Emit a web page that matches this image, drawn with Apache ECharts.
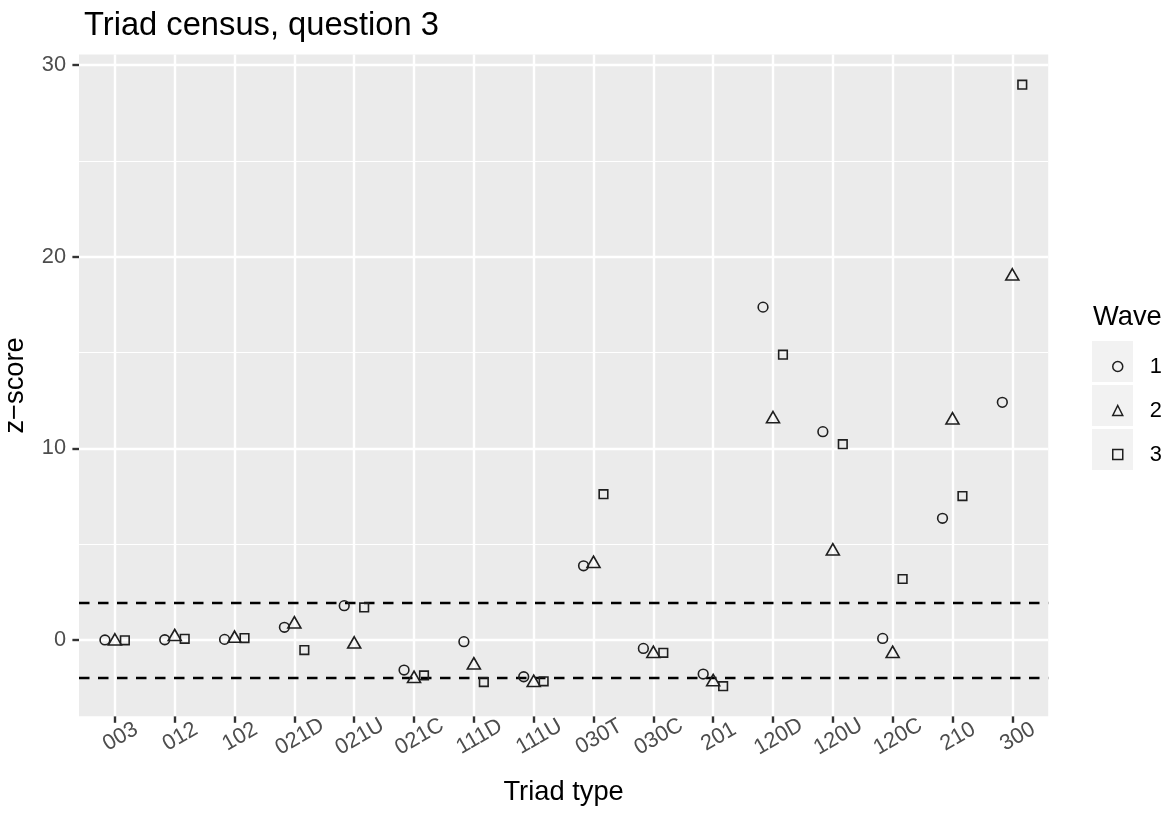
<!DOCTYPE html>
<html>
<head>
<meta charset="utf-8">
<script src="https://cdn.jsdelivr.net/npm/echarts@6/dist/echarts.min.js"></script>
<style>
html,body{margin:0;padding:0;background:#fff;}
#chart{width:1168px;height:814px;}
</style>
</head>
<body>
<div id="chart"></div>
<script>
// ---- data ----
const categories = ['003','012','102','021D','021U','021C','111D','111U','030T','030C','201','120D','120U','120C','210','300'];
const waves = ['1','2','3'];
const wave1 = [0.00, 0.01, 0.03, 0.66, 1.79, -1.57, -0.09, -1.92, 3.87, -0.44, -1.78, 17.37, 10.87, 0.08, 6.35, 12.40];
const wave2 = [0.03, 0.26, 0.17, 0.92, -0.13, -1.92, -1.22, -2.13, 4.08, -0.62, -2.09, 11.63, 4.73, -0.62, 11.57, 19.08];
const wave3 = [-0.02, 0.06, 0.10, -0.53, 1.70, -1.85, -2.20, -2.16, 7.61, -0.67, -2.41, 14.89, 10.22, 3.18, 7.51, 28.98];
const thresholds = [-1.96, 1.96];
const yTicks = [0, 10, 20, 30];
const yMinor = [5, 15, 25];

// ---- layout / style ----
const waveValues = [wave1, wave2, wave3];
const shapes = ['circle', 'triangle', 'rect'];
const sizes = [9.7, [13, 11.3], 8.6];
const dodge = [-1/6, 0, 1/6];
const strokeCol = '#1f1f1f';
const FONT = 'Liberation Sans, Arial, sans-serif';

const allY = wave1.concat(wave2, wave3, thresholds);
const yLo = Math.min.apply(null, allY), yHi = Math.max.apply(null, allY);
const ypad = (yHi - yLo) * 0.05;
const yMin = yLo - ypad, yMax = yHi + ypad;
const catIdx = categories.map((c, i) => i);

const pointSeries = waves.map((w, k) => ({
  name: w,
  type: 'scatter',
  z: 5,
  symbol: shapes[k],
  symbolSize: sizes[k],
  itemStyle: { color: 'rgba(0,0,0,0)', borderColor: strokeCol, borderWidth: 1.6, opacity: 1 },
  emphasis: { disabled: true },
  data: waveValues[k].map((v, i) => [i + dodge[k], v])
}));

const gridLines = [];
yMinor.forEach(v => gridLines.push({ yAxis: v, lineStyle: { color: '#fff', width: 1.2, type: 'solid' } }));
yTicks.forEach(v => gridLines.push({ yAxis: v, lineStyle: { color: '#fff', width: 2.4, type: 'solid' } }));
catIdx.forEach(v => gridLines.push({ xAxis: v, lineStyle: { color: '#fff', width: 2.4, type: 'solid' } }));

const option = {
  animation: false,
  backgroundColor: '#ffffff',
  textStyle: { fontFamily: FONT },
  title: [
    { text: 'Triad census, question 3', left: 79, top: 4,
      textStyle: { fontSize: 32.7, fontWeight: 'normal', color: '#000', fontFamily: FONT } },
    { text: 'Wave', left: 1088, top: 298.5,
      textStyle: { fontSize: 27.3, fontWeight: 'normal', color: '#000', fontFamily: FONT } }
  ],
  graphic: [0, 1, 2].map(i => ({
    type: 'rect', left: 1092, top: 341 + i * 44, z: -1,
    shape: { width: 41, height: 41 }, style: { fill: '#F2F2F2' }, silent: true
  })),
  legend: {
    orient: 'vertical', left: 1107, top: 350.5,
    itemWidth: 10, itemHeight: 10, itemGap: 22,
    selectedMode: false,
    textStyle: { fontSize: 21.8, color: '#000', lineHeight: 22, padding: [0, 0, 0, 22], fontFamily: FONT },
    data: waves.map((w, k) => ({
      name: w, icon: shapes[k],
      itemStyle: { color: 'rgba(0,0,0,0)', borderColor: strokeCol, borderWidth: 1.5 }
    }))
  },
  grid: {
    left: 79, right: 119.8, top: 54.6, bottom: 97.8,
    containLabel: false, outerBoundsMode: 'none',
    show: true, backgroundColor: '#EBEBEB', borderWidth: 0
  },
  xAxis: {
    type: 'value', min: -0.6, max: categories.length - 0.4,
    name: 'Triad type', nameLocation: 'middle', nameGap: 63,
    nameTextStyle: { fontSize: 27.3, color: '#000', fontFamily: FONT },
    axisLine: { show: false, onZero: false },
    splitLine: { show: false },
    axisTick: { show: true, inside: false, length: 6.6, customValues: catIdx, lineStyle: { color: '#333333', width: 2.4, opacity: 1 } },
    axisLabel: {
      customValues: catIdx, rotate: 30, align: 'center', verticalAlign: 'top', margin: 11,
      fontSize: 21.8, color: '#4D4D4D', fontFamily: FONT,
      formatter: v => categories[Math.round(v)]
    }
  },
  yAxis: {
    type: 'value', min: yMin, max: yMax,
    name: 'z\u2212score', nameLocation: 'middle', nameGap: 50,
    nameTextStyle: { fontSize: 27.3, color: '#000', fontFamily: FONT },
    axisLine: { show: false, onZero: false },
    splitLine: { show: false },
    axisTick: { show: true, inside: false, length: 6.6, customValues: yTicks, lineStyle: { color: '#333333', width: 2.4, opacity: 1 } },
    axisLabel: { customValues: yTicks, margin: 13, fontSize: 21.8, color: '#4D4D4D', fontFamily: FONT }
  },
  series: [
    { name: 'gridlines', type: 'scatter', data: [], z: 1, silent: true,
      markLine: { silent: true, symbol: ['none', 'none'], label: { show: false }, animation: false, data: gridLines } },
    { name: 'thresholds', type: 'scatter', data: [], z: 2, silent: true,
      markLine: { silent: true, symbol: ['none', 'none'], label: { show: false }, animation: false,
        data: thresholds.map(v => ({ yAxis: v, lineStyle: { color: '#000', width: 2.4, type: [10.5, 8.5] } })) } }
  ].concat(pointSeries)
};

const chart = echarts.init(document.getElementById('chart'), null, { renderer: 'canvas' });
chart.setOption(option);
</script>
</body>
</html>
